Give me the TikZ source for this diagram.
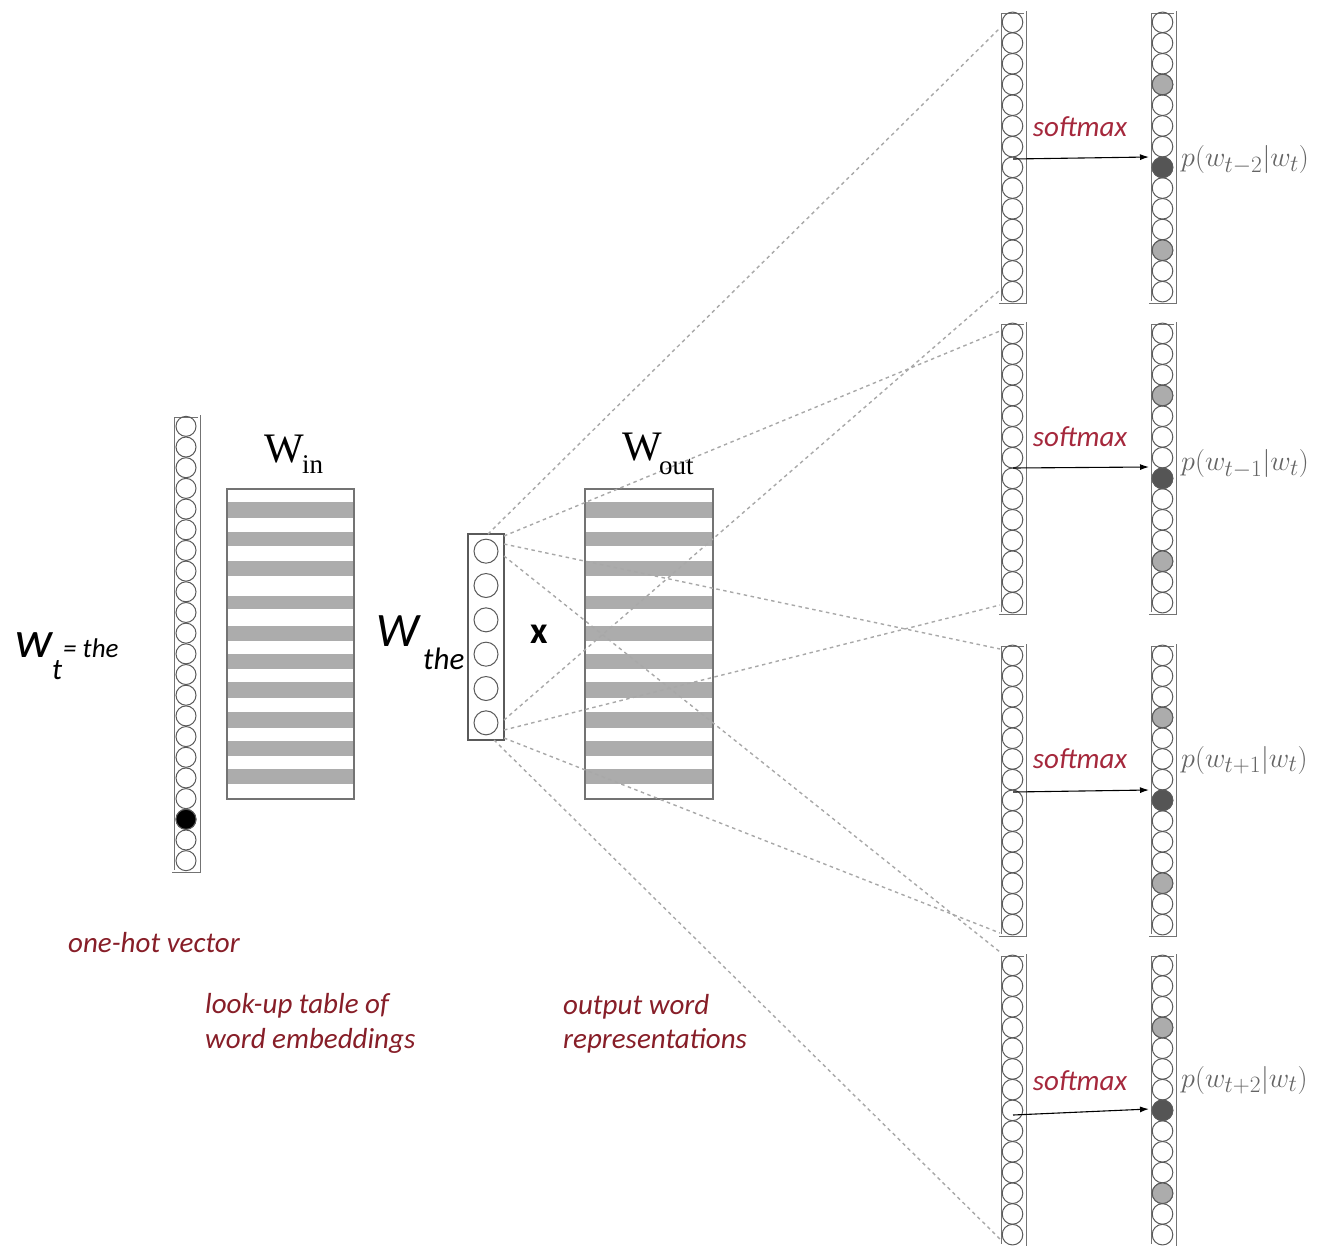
\documentclass[tikz,border=0pt]{standalone}
\usepackage{fontspec}
\newfontfamily\calib{Carlito}
\newfontfamily\tnr{Liberation Serif}
\usetikzlibrary{arrows.meta,calc}
\definecolor{lblred}{RGB}{135,30,40}
\definecolor{smred}{RGB}{165,40,60}
\definecolor{fangray}{RGB}{168,168,168}
\definecolor{stripe}{RGB}{172,172,172}
\definecolor{edge}{RGB}{115,115,115}
\definecolor{circedge}{RGB}{90,90,90}
\definecolor{ltdot}{RGB}{172,172,172}
\definecolor{dkdot}{RGB}{85,85,85}
\definecolor{ptext}{RGB}{100,100,100}
\newcommand\mkcol[7]{%
  \node[colbox, minimum width=#4pt, minimum height=#5pt, anchor=north west] (#1) at (#2,#3) {};
  \foreach \ci in {1,...,#6}{\draw[circ] ({#2+#4/2},{#3+(\ci-0.5)*#5/#6}) circle[radius=#7pt];}
}
\begin{document}
\begin{tikzpicture}[x=1pt,y=-1pt,
  colbox/.style={draw=edge, line width=0.8pt, double=white, double distance=1.4pt, inner sep=0pt, outer sep=0pt, fill=white},
  circ/.style={draw=circedge, line width=1pt},
  matbox/.style={draw=edge, line width=1.3pt, inner sep=0pt, outer sep=0pt},
  fan/.style={draw=fangray, line width=1.4pt, dash pattern=on 3.5pt off 3.5pt},
  arr/.style={draw=black, line width=1.1pt, -{Latex[length=9pt,width=6pt]}},
  lbl/.style={font=\calib\itshape\fontsize{29}{32}\selectfont, text=lblred, inner sep=0pt, anchor=base west},
  smlbl/.style={font=\calib\itshape\fontsize{29}{29}\selectfont, text=smred, inner sep=0pt},
  plbl/.style={font=\fontsize{24.88}{26}\selectfont, scale=1.13, text=ptext, inner sep=0pt, anchor=west},
  txt/.style={inner sep=0pt, anchor=base west}]
\useasboundingbox (0,0) rectangle (1324,1245);

% matrices
\foreach \a/\b in {503/517,533/545,562/575,597/608,627/640,655/668,683/697,713/727,742/755,770/783}{
  \fill[stripe] (228,\a-1) rectangle (353,\b+1);
  \fill[stripe] (586,\a-1) rectangle (712,\b+1);
}
\node[matbox, minimum width=127pt, minimum height=310pt, anchor=north west] (winm) at (227,489) {};
\node[matbox, minimum width=128pt, minimum height=310pt, anchor=north west] (woutm) at (585,489) {};

% right groups (columns)
\foreach \k/\t in {1/12,2/323,3/645,4/955}{
  \mkcol{L\k}{1000}{\t}{25}{290}{14}{10.3}
  \mkcol{R\k}{1150}{\t}{25}{290}{14}{10.3}
  \filldraw[circ, fill=ltdot] (1162.5,{\t+3.5*290/14}) circle[radius=10.3pt];
  \filldraw[circ, fill=dkdot] (1162.5,{\t+7.5*290/14}) circle[radius=10.3pt];
  \filldraw[circ, fill=ltdot] (1162.5,{\t+11.5*290/14}) circle[radius=10.3pt];
}

% W_the vector
\node[colbox, double=none, line width=1.2pt, draw=circedge, minimum width=36pt, minimum height=206pt, anchor=north west] (wthe) at (468,534) {};
\foreach \i in {0,...,5}{\draw[circ] (486,{534+(\i+0.5)*206/6}) circle[radius=12pt];}

% dashed fan
\draw[fan] ($(wthe.north)+(2,0)$) -- ($(L1.north west)+(0,16)$);
\draw[fan] ($(wthe.north east)+(0,2)$) -- ($(L2.north west)+(0,8)$);
\draw[fan] ($(wthe.north east)+(0,10)$) -- ($(L3.north west)+(0,4)$);
\draw[fan] ($(wthe.north east)+(0,22)$) -- ($(L4.north west)+(0,-3)$);
\draw[fan] ($(wthe.south east)+(0,-20)$) -- ($(L1.south west)+(0,-12)$);
\draw[fan] ($(wthe.south east)+(0,-10)$) -- ($(L2.south west)+(0,-8)$);
\draw[fan] ($(wthe.south east)+(0,-2)$) -- ($(L3.south west)+(0,-2)$);
\draw[fan] ($(wthe.south)+(8,0)$) -- ($(L4.south west)+(0,-6)$);

% one-hot vector
\mkcol{onehot}{173}{416}{26}{455}{22}{10}
\filldraw[circ, fill=black] (186,{416+19.5*455/22}) circle[radius=10pt];

% arrows, softmax, p labels
\foreach \k/\as/\ae/\sy/\py/\pl in {1/159/157/127/160/{t-2},2/468/467/437/464/{t-1},3/792/790/759/760/{t+1},4/1115/1109/1081/1080/{t+2}}{
  \coordinate (L\k-out) at (1013,\as);
  \coordinate (R\k-in) at (1149,\ae);
  \draw[arr] (L\k-out) -- (R\k-in);
  \node[smlbl] (sm\k) at (1080,\sy) {softmax};
  \node[plbl] (p\k) at (1181,\py) {$p(w_{\pl}|w_t)$};
}

% labels
\node[txt, font=\calib\itshape\fontsize{52}{52}\selectfont] (wt) at (15,657) {w};
\node[txt, font=\calib\itshape\fontsize{30}{30}\selectfont] (wtsub) at (52,679) {t};
\node[txt, font=\calib\itshape\fontsize{27}{27}\selectfont] (wteq) at (63,657) {= the};
\node[txt, font=\calib\itshape\fontsize{48}{48}\selectfont] (wbig) at (376,646) {W};
\node[txt, font=\calib\itshape\fontsize{31}{31}\selectfont] (wsub) at (423,669) {the};
\node[font=\calib\bfseries\fontsize{38}{38}\selectfont, inner sep=0pt] (times) at (539,634) {x};
\node[txt, font=\tnr\fontsize{42}{42}\selectfont] (winW) at (264,462) {W};
\node[txt, font=\tnr\fontsize{27}{27}\selectfont] (winsub) at (302,473) {in};
\node[txt, font=\tnr\fontsize{42}{42}\selectfont] (woutW) at (622,460) {W};
\node[txt, font=\tnr\fontsize{27}{27}\selectfont] (woutsub) at (659,474) {out};

\node[lbl] (onehotlbl) at (68,952) {one-hot vector};
\node[lbl] (lut1) at (205,1013) {look-up table of};
\node[lbl] (lut2) at (205,1048) {word embeddings};
\node[lbl] (owr1) at (563,1014) {output word};
\node[lbl] (owr2) at (563,1048) {representations};
\end{tikzpicture}
\end{document}
